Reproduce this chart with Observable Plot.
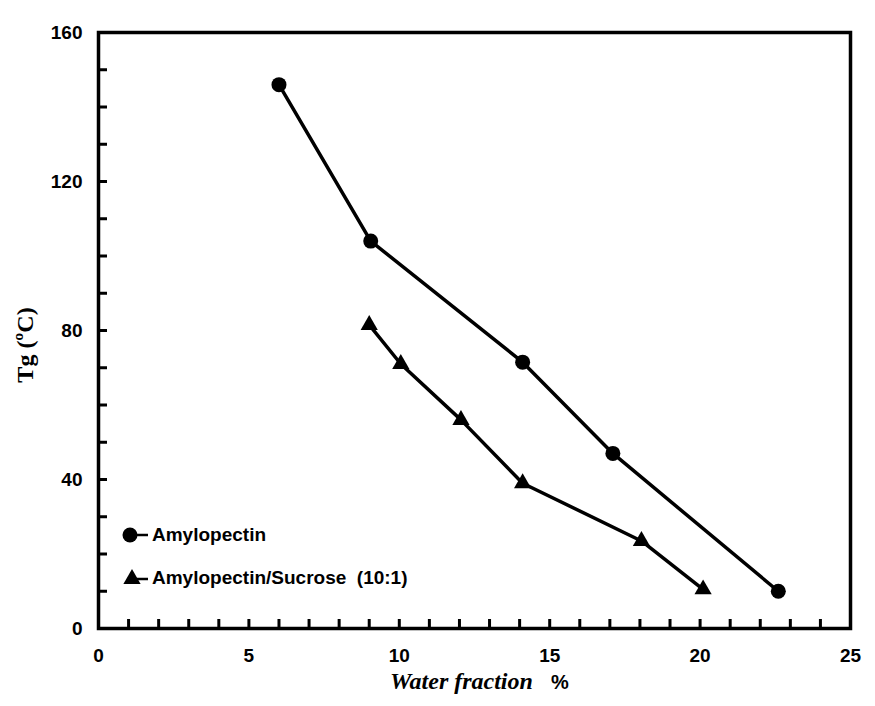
<!DOCTYPE html>
<html>
<head>
<meta charset="utf-8">
<script src="https://cdn.jsdelivr.net/npm/d3@7"></script>
<script src="https://cdn.jsdelivr.net/npm/@observablehq/plot@0.6"></script>
<style>
  html, body { margin: 0; padding: 0; background: #fff; }
  #wrap { position: relative; width: 875px; height: 706px; }
  .ylabel { position: absolute; left: 25px; top: 345px; transform: translate(-50%, -50%) rotate(-90deg);
    font-family: "Liberation Serif", "Times New Roman", serif; font-weight: bold; font-size: 24px; white-space: nowrap; color: #000; }
  .xlabel { position: absolute; left: 390px; top: 668px; white-space: nowrap; font-size: 24px; color: #000; }
  .xlabel .t { font-family: "Liberation Serif", serif; font-weight: bold; font-style: italic; }
  .xlabel .p { font-family: "Liberation Sans", Arial, sans-serif; font-weight: bold; font-size: 20px; margin-left: 18px; }
  .legend { position: absolute; left: 120px; top: 522px; font-family: "Liberation Sans", Arial, sans-serif;
    font-weight: bold; font-size: 19px; color: #000; }
  .legend .row { display: flex; align-items: center; height: 26px; margin-bottom: 17px; white-space: nowrap; }
  .legend svg { margin-right: 2px; }
</style>
</head>
<body>
<div id="wrap"></div>
<script>
// Data
const amyWater = [6.0, 9.05, 14.1, 17.1, 22.6];
const amyTg    = [146, 104, 71.5, 47, 10];
const sucWater = [9.0, 10.05, 12.05, 14.1, 18.05, 20.1];
const sucTg    = [81.5, 71, 56, 39, 23.5, 10.5];
const seriesNames = ["Amylopectin", "Amylopectin/Sucrose  (10:1)"];
const xTickLabels = [0, 5, 10, 15, 20, 25];
const yTickLabels = [0, 40, 80, 120, 160];
const xMinorTicks = d3.range(0, 26, 1);
const yMinorTicks = d3.range(0, 161, 10);

const amy = amyWater.map((w, i) => ({water: w, tg: amyTg[i]}));
const suc = sucWater.map((w, i) => ({water: w, tg: sucTg[i]}));

const chart = Plot.plot({
  width: 875,
  height: 706,
  marginLeft: 98,
  marginRight: 25,
  marginTop: 32,
  marginBottom: 78,
  style: {fontFamily: "'Liberation Sans', Arial, sans-serif", fontWeight: "bold", fontSize: "19px", background: "white", color: "black"},
  x: {domain: [0, 25], label: null},
  y: {domain: [0, 160], label: null},
  marks: [
    Plot.axisX({ticks: xMinorTicks, tickSize: 9, dy: -9, tickFormat: () => "", stroke: "black", strokeWidth: 3, strokeOpacity: 1, label: null}),
    Plot.axisY({ticks: yMinorTicks, tickSize: 9, dx: 9, tickFormat: () => "", stroke: "black", strokeWidth: 3, strokeOpacity: 1, label: null}),
    Plot.axisX({ticks: xTickLabels, tickSize: 0, tickPadding: 20, label: null}),
    Plot.axisY({ticks: yTickLabels, tickSize: 0, tickPadding: 16, label: null}),
    Plot.frame({stroke: "black", strokeWidth: 3.5}),
    Plot.line(amy, {x: "water", y: "tg", stroke: "black", strokeWidth: 3.5}),
    Plot.line(suc, {x: "water", y: "tg", stroke: "black", strokeWidth: 3.5}),
    Plot.dot(amy, {x: "water", y: "tg", r: 7.5, fill: "black", stroke: "none"}),
    Plot.dot(suc, {x: "water", y: "tg", r: 6.4, symbol: "triangle", fill: "black", stroke: "none"})
  ]
});

const wrap = document.getElementById("wrap");
wrap.appendChild(chart);

const yl = document.createElement("div");
yl.className = "ylabel";
yl.textContent = "Tg (ºC)";
wrap.appendChild(yl);

const xl = document.createElement("div");
xl.className = "xlabel";
xl.innerHTML = '<span class="t">Water fraction</span><span class="p">%</span>';
wrap.appendChild(xl);

const lg = document.createElement("div");
lg.className = "legend";
const symbols = [
  '<svg width="30" height="20"><circle cx="10" cy="10" r="7.5" fill="black"/><line x1="16" y1="10" x2="28" y2="10" stroke="black" stroke-width="2.5"/></svg>',
  '<svg width="30" height="20"><path d="' + d3.symbol(d3.symbolTriangle, Math.PI * 6.4 * 6.4)() + '" transform="translate(12,11)" fill="black"/><line x1="16" y1="11" x2="28" y2="11" stroke="black" stroke-width="2.5"/></svg>'
];
seriesNames.forEach((name, i) => {
  const row = document.createElement("div");
  row.className = "row";
  row.innerHTML = symbols[i] + "<span>" + name.replace(/  /g, "&nbsp;&nbsp;") + "</span>";
  lg.appendChild(row);
});
wrap.appendChild(lg);
</script>
</body>
</html>
